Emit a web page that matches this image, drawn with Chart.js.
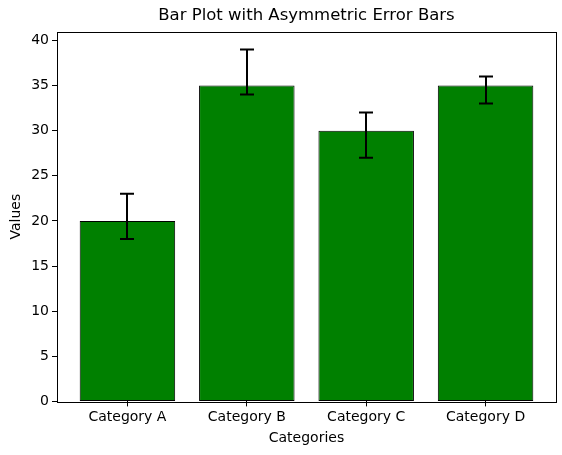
<!DOCTYPE html>
<html>
<head>
<meta charset="utf-8">
<script src="https://cdn.jsdelivr.net/npm/chart.js@4"></script>
<style>
  html, body { margin: 0; padding: 0; background: #fff; }
  #wrap { width: 562px; height: 455px; }
</style>
</head>
<body>
<div id="wrap"><canvas id="barChart"></canvas></div>
<script>
// data
const categories = ['Category A', 'Category B', 'Category C', 'Category D'];
const values = [20, 35, 30, 35];
const errLower = [2, 1, 3, 2];   // distance below the bar top
const errUpper = [3, 4, 2, 1];   // distance above the bar top
const yTicks = [0, 5, 10, 15, 20, 25, 30, 35, 40];

const FONT = 'DejaVu Sans';

// error bars drawn on top of the bars
const errorBars = {
    id: 'errorBars',
    afterDatasetsDraw(chart) {
        const ctx = chart.ctx;
        const xs = chart.scales.x, ys = chart.scales.y;
        ctx.save();
        ctx.strokeStyle = '#000';
        ctx.lineWidth = 2;
        values.forEach((v, i) => {
            const x = Math.round(xs.getPixelForValue(i));
            const yLo = ys.getPixelForValue(v - errLower[i]);
            const yHi = ys.getPixelForValue(v + errUpper[i]);
            ctx.beginPath();
            ctx.moveTo(x, yLo); ctx.lineTo(x, yHi);
            ctx.moveTo(x - 7, yLo); ctx.lineTo(x + 7, yLo);
            ctx.moveTo(x - 7, yHi); ctx.lineTo(x + 7, yHi);
            ctx.stroke();
        });
        ctx.restore();
    }
};

// black frame round the plot area
const frame = {
    id: 'frame',
    afterDraw(chart) {
        const a = chart.chartArea, ctx = chart.ctx;
        ctx.save();
        ctx.strokeStyle = '#000';
        ctx.lineWidth = 1;
        ctx.strokeRect(Math.round(a.left) + 0.5, Math.round(a.top) + 0.5,
            Math.round(a.right - a.left), Math.round(a.bottom - a.top));
        ctx.restore();
    }
};

const ctx = document.getElementById('barChart').getContext('2d');
new Chart(ctx, {
    type: 'bar',
    data: {
        datasets: [{
            data: values.map((v, i) => ({ x: i, y: v })),
            backgroundColor: '#008000',
            borderColor: '#000',
            borderWidth: 1,
            borderSkipped: false,
            barPercentage: 0.8,
            categoryPercentage: 1.0
        }]
    },
    options: {
        responsive: true,
        maintainAspectRatio: false,
        animation: false,
        devicePixelRatio: 1,
        layout: { padding: { left: 8, right: 6, top: 1, bottom: 8 } },
        plugins: {
            legend: { display: false },
            tooltip: { enabled: false },
            title: {
                display: true,
                text: 'Bar Plot with Asymmetric Error Bars',
                color: '#000',
                fullSize: false,
                font: { family: FONT, size: 16.5, weight: 'normal' },
                padding: { top: 5, bottom: 6 }
            }
        },
        scales: {
            x: {
                type: 'linear',
                min: -0.59,
                max: 3.59,
                offset: false,
                afterBuildTicks(scale) {
                    scale.ticks = categories.map((c, i) => ({ value: i }));
                },
                ticks: {
                    color: '#000',
                    font: { family: FONT, size: 14 },
                    padding: 3,
                    callback: (v) => categories[v]
                },
                grid: { display: true, offset: false, drawOnChartArea: false, tickLength: 5, color: '#000', tickColor: '#000' },
                border: { display: false },
                title: {
                    display: true,
                    text: 'Categories',
                    color: '#000',
                    font: { family: FONT, size: 14 },
                    padding: { top: 1, bottom: 0 }
                }
            },
            y: {
                min: 0,
                max: 40.95,
                afterBuildTicks(scale) {
                    scale.ticks = yTicks.map(v => ({ value: v }));
                },
                afterFit(scale) { scale.width = 49; },
                ticks: {
                    color: '#000',
                    font: { family: FONT, size: 14 },
                    padding: 3
                },
                grid: { display: true, drawOnChartArea: false, tickLength: 5, color: '#000', tickColor: '#000' },
                border: { display: false },
                title: {
                    display: true,
                    text: 'Values',
                    color: '#000',
                    font: { family: FONT, size: 14 },
                    padding: { top: 0, bottom: 2 }
                }
            }
        }
    },
    plugins: [errorBars, frame]
});
</script>
</body>
</html>
